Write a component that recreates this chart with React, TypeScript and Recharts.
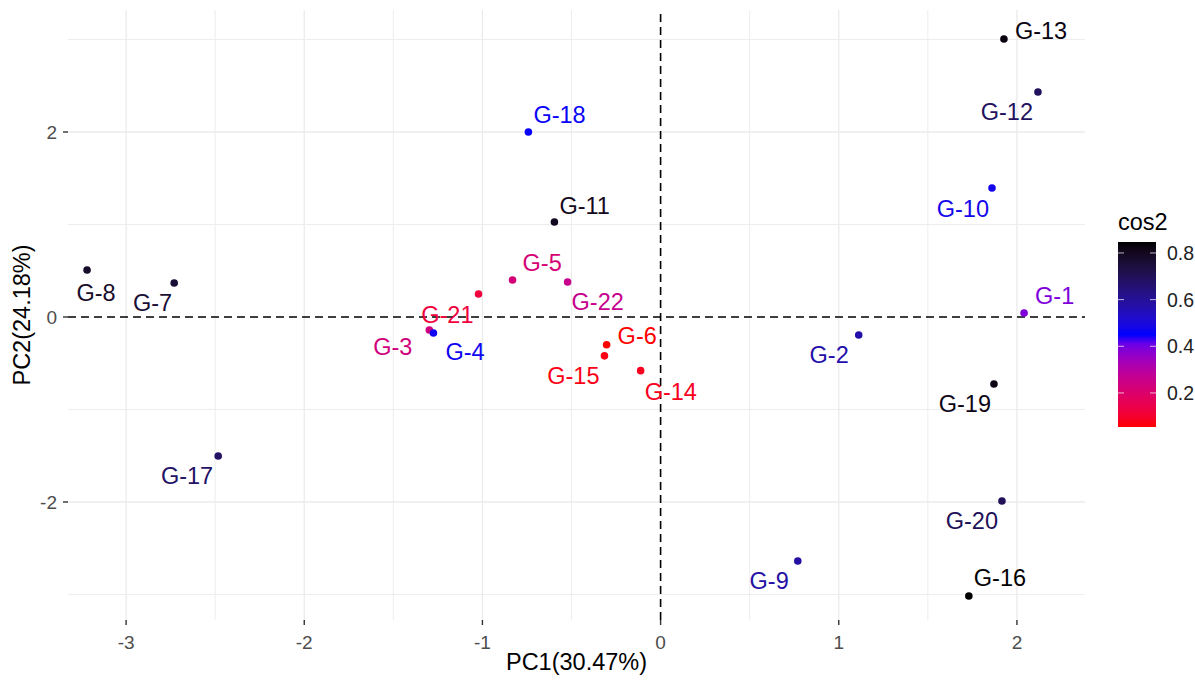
import React from 'react';
import { ScatterChart, Scatter, XAxis, YAxis, ReferenceLine, Legend } from 'recharts';

// individuals on the first two principal components
const names = [
  'G-1', 'G-2', 'G-3', 'G-4', 'G-5', 'G-6', 'G-7', 'G-8', 'G-9', 'G-10', 'G-11',
  'G-12', 'G-13', 'G-14', 'G-15', 'G-16', 'G-17', 'G-18', 'G-19', 'G-20', 'G-21', 'G-22',
];
const pc1 = [
  2.04, 1.112, -1.298, -1.275, -0.831, -0.303, -2.73, -3.219, 0.77, 1.86, -0.596,
  2.118, 1.927, -0.112, -0.315, 1.73, -2.483, -0.742, 1.871, 1.916, -1.022, -0.522,
];
const pc2 = [
  0.043, -0.195, -0.14, -0.173, 0.4, -0.3, 0.368, 0.508, -2.638, 1.395, 1.027,
  2.432, 3.005, -0.58, -0.42, -3.016, -1.503, 2.0, -0.724, -1.989, 0.249, 0.378,
];
const cos2 = [
  0.39, 0.57, 0.23, 0.47, 0.22, 0.054, 0.76, 0.78, 0.58, 0.48, 0.8,
  0.69, 0.83, 0.08, 0.07, 0.847, 0.68, 0.46, 0.82, 0.7, 0.12, 0.26,
];

const xTicks = [-3, -2, -1, 0, 1, 2];
const xMinor = [-2.5, -1.5, -0.5, 0.5, 1.5];
const yTicks = [-2, 0, 2];
const yMinor = [-3, -1, 1, 3];
const legendTicks = [0.2, 0.4, 0.6, 0.8];

// label placement (ggrepel-like), [anchor, dx, dy] in px relative to the point
const labelPos: Record<string, [string, number, number]> = {
  'G-1': ['start', 11, -17], 'G-2': ['end', -10, 20], 'G-3': ['end', -17, 17],
  'G-4': ['start', 12, 19], 'G-5': ['start', 10, -17], 'G-6': ['start', 11, -9],
  'G-7': ['end', -2, 20], 'G-8': ['middle', 9, 23], 'G-9': ['end', -9, 20],
  'G-10': ['end', -3, 21], 'G-11': ['start', 5, -16], 'G-12': ['end', -5, 19],
  'G-13': ['start', 11, -9], 'G-14': ['start', 4, 21], 'G-15': ['end', -5, 20],
  'G-16': ['start', 5, -18], 'G-17': ['end', -5, 20], 'G-18': ['start', 5, -17],
  'G-19': ['end', -3, 20], 'G-20': ['end', -4, 20], 'G-21': ['end', -5, 21],
  'G-22': ['start', 4, 20],
};

const FONT = '"Liberation Sans", Arial, sans-serif';
const W = 1195;
const H = 681;

// colour scale red -> blue -> black, interpolated in Lab like ggplot
const cosMin = Math.min(...cos2);
const cosMax = Math.max(...cos2);
const stops = [[255, 0, 0], [0, 0, 255], [0, 0, 0]];

const toLab = ([r, g, b]: number[]) => {
  const lin = (c: number) => { c /= 255; return c <= 0.04045 ? c / 12.92 : Math.pow((c + 0.055) / 1.055, 2.4); };
  const R = lin(r), G = lin(g), B = lin(b);
  const X = (0.4124 * R + 0.3576 * G + 0.1805 * B) / 0.95047;
  const Y = 0.2126 * R + 0.7152 * G + 0.0722 * B;
  const Z = (0.0193 * R + 0.1192 * G + 0.9505 * B) / 1.08883;
  const f = (t: number) => (t > 0.008856 ? Math.cbrt(t) : 7.787 * t + 16 / 116);
  return [116 * f(Y) - 16, 500 * (f(X) - f(Y)), 200 * (f(Y) - f(Z))];
};

const fromLab = ([L, a, b]: number[]) => {
  const fy = (L + 16) / 116;
  const fx = fy + a / 500;
  const fz = fy - b / 200;
  const inv = (t: number) => (t * t * t > 0.008856 ? t * t * t : (t - 16 / 116) / 7.787);
  const X = inv(fx) * 0.95047, Y = inv(fy), Z = inv(fz) * 1.08883;
  const rgb = [
    3.2406 * X - 1.5372 * Y - 0.4986 * Z,
    -0.9689 * X + 1.8758 * Y + 0.0415 * Z,
    0.0557 * X - 0.204 * Y + 1.057 * Z,
  ].map(c => {
    const v = c <= 0.0031308 ? 12.92 * c : 1.055 * Math.pow(c, 1 / 2.4) - 0.055;
    return Math.round(Math.max(0, Math.min(1, v)) * 255);
  });
  return `rgb(${rgb[0]},${rgb[1]},${rgb[2]})`;
};

const labStops = stops.map(toLab);
const colorAt = (v: number) => {
  const t = Math.max(0, Math.min(1, (v - cosMin) / (cosMax - cosMin))) * 2;
  const i = Math.min(1, Math.floor(t));
  const u = t - i;
  const a = labStops[i], b = labStops[i + 1];
  return fromLab([0, 1, 2].map(k => a[k] + (b[k] - a[k]) * u));
};

const data = names.map((name, i) => ({ name, x: pc1[i], y: pc2[i], cos2: cos2[i] }));

const PointShape = (props: any) => {
  const { cx, cy, payload } = props;
  const col = colorAt(payload.cos2);
  const [anchor, dx, dy] = labelPos[payload.name];
  return (
    <g>
      <circle cx={cx} cy={cy} r={3.8} fill={col} />
      <text x={cx + dx} y={cy + dy} dy="0.36em" textAnchor={anchor as any} fill={col} fontSize={23.5} fontFamily={FONT}>
        {payload.name}
      </text>
    </g>
  );
};

const BAR_H = 185;
const ColorBar = () => {
  const gradStops = Array.from({ length: 21 }, (_, k) => k / 20);
  return (
    <svg width={83} height={240} style={{ display: 'block' }}>
      <defs>
        <linearGradient id="cosGrad" x1="0" y1="1" x2="0" y2="0">
          {gradStops.map(o => (
            <stop key={o} offset={`${o * 100}%`} stopColor={colorAt(cosMin + o * (cosMax - cosMin))} />
          ))}
        </linearGradient>
      </defs>
      <text x={6} y={17} dy="0.36em" fontSize={23.5} fontFamily={FONT} fill="#000">cos2</text>
      <rect x={6} y={37} width={38} height={BAR_H} fill="url(#cosGrad)" />
      {legendTicks.map(v => {
        const ty = 37 + ((cosMax - v) / (cosMax - cosMin)) * BAR_H;
        return (
          <g key={v}>
            <line x1={6} x2={12} y1={ty} y2={ty} stroke="#fff" strokeOpacity={0.7} />
            <line x1={38} x2={44} y1={ty} y2={ty} stroke="#fff" strokeOpacity={0.7} />
            <text x={55} y={ty} dy="0.36em" fontSize={19.5} fontFamily={FONT} fill="#222">{v.toFixed(1)}</text>
          </g>
        );
      })}
    </svg>
  );
};

const App: React.FC = () => (
  <div style={{ position: 'absolute', left: 0, top: 0, width: W, height: H, background: '#fff', fontFamily: FONT }}>
    <ScatterChart width={W} height={H} margin={{ top: 10, right: 110, left: 0, bottom: 0 }}>
      <XAxis
        type="number"
        dataKey="x"
        domain={[-3.326, 2.382]}
        ticks={xTicks}
        allowDataOverflow
        axisLine={false}
        tickLine={{ stroke: '#333', strokeWidth: 1.4 }}
        tickSize={5}
        tickMargin={11}
        height={61}
        tick={{ fill: '#4d4d4d', fontSize: 19, fontFamily: FONT }}
        label={{ value: 'PC1(30.47%)', position: 'insideBottom', offset: 11, fill: '#000', fontSize: 23.5, fontFamily: FONT }}
      />
      <YAxis
        type="number"
        dataKey="y"
        domain={[-3.276, 3.319]}
        ticks={yTicks}
        allowDataOverflow
        axisLine={false}
        tickLine={{ stroke: '#333', strokeWidth: 1.4 }}
        tickSize={5}
        tickMargin={6}
        width={68}
        tick={{ fill: '#4d4d4d', fontSize: 19, fontFamily: FONT }}
        label={{ value: 'PC2(24.18%)', angle: -90, position: 'insideLeft', offset: 22, fill: '#000', fontSize: 23.5, fontFamily: FONT, style: { textAnchor: 'middle' } }}
      />
      {xMinor.map(v => <ReferenceLine key={`xm${v}`} x={v} stroke="#ebebeb" strokeWidth={0.9} />)}
      {yMinor.map(v => <ReferenceLine key={`ym${v}`} y={v} stroke="#ebebeb" strokeWidth={0.9} />)}
      {xTicks.filter(v => v !== 0).map(v => <ReferenceLine key={`x${v}`} x={v} stroke="#ebebeb" strokeWidth={1.3} />)}
      {yTicks.filter(v => v !== 0).map(v => <ReferenceLine key={`y${v}`} y={v} stroke="#ebebeb" strokeWidth={1.3} />)}
      <ReferenceLine x={0} stroke="#000" strokeWidth={1.6} strokeDasharray="8 5" />
      <ReferenceLine y={0} stroke="#000" strokeWidth={1.6} strokeDasharray="8 5" />
      <Legend layout="vertical" align="center" verticalAlign="middle" content={() => <ColorBar />}
        wrapperStyle={{ left: 1112, top: 205, width: 83, height: 240 }} />
      <Scatter data={data} shape={PointShape} isAnimationActive={false} legendType="none" />
    </ScatterChart>
  </div>
);

export default App;
